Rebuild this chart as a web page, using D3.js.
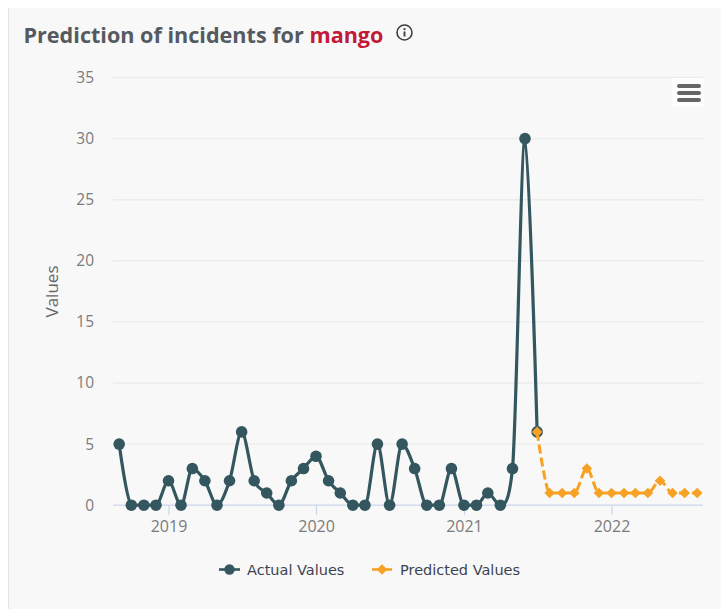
<!DOCTYPE html>
<html>
<head>
<meta charset="utf-8">
<style>
html,body{margin:0;padding:0;background:#fff;}
svg{display:block;}
</style>
<script src="https://cdn.jsdelivr.net/npm/d3@7/dist/d3.min.js"></script>
</head>
<body>
<svg id="chart" width="721" height="609"></svg>
<script>
// Monthly incident counts, one entry per month starting at actualStart
const actualStart = [2018, 8];
const actualValues = [5,0,0,0,2,0,3,2,0,2,6,2,1,0,2,3,4,2,1,0,0,5,0,5,3,0,0,3,0,0,1,0,3,30,6];
const predictedStart = [2021, 6];
const predictedValues = [6,1,1,1,3,1,1,1,1,1,2,1,1,1];
const yTicks = [0,5,10,15,20,25,30,35];
const xTickYears = [2019,2020,2021,2022];
const subject = "mango";
const legendLabels = ["Actual Values","Predicted Values"];

const teal = "#34565f", orange = "#f7a125";
const sansTitle = "'Open Sans', sans-serif";
const sansLegend = "'DejaVu Sans', sans-serif";

const monthly = (start, vals) => vals.map((v, i) => ({date: new Date(start[0], start[1] + i, 1), value: v}));
const actual = monthly(actualStart, actualValues);
const predicted = monthly(predictedStart, predictedValues);

// Spline with tangents clamped at local extremes, so peaks stay sharp but do not overshoot
function clampedSpline(context) {
  let pts = [];
  return {
    lineStart() { pts = []; },
    point(px, py) { pts.push([+px, +py]); },
    lineEnd() {
      const s = 2.2, d = s + 1, n = pts.length;
      const ctl = pts.map((p, i) => {
        if (i === 0 || i === n - 1) return {lx: p[0], ly: p[1], rx: p[0], ry: p[1]};
        const a = pts[i - 1], b = pts[i + 1];
        const lx = (s * p[0] + a[0]) / d, rx = (s * p[0] + b[0]) / d;
        let ly = (s * p[1] + a[1]) / d, ry = (s * p[1] + b[1]) / d;
        const c = ((ry - ly) * (rx - p[0])) / (rx - lx) + p[1] - ry;
        ly += c; ry += c;
        if (ly > a[1] && ly > p[1]) { ly = Math.max(a[1], p[1]); ry = 2 * p[1] - ly; }
        else if (ly < a[1] && ly < p[1]) { ly = Math.min(a[1], p[1]); ry = 2 * p[1] - ly; }
        if (ry > b[1] && ry > p[1]) { ry = Math.max(b[1], p[1]); ly = 2 * p[1] - ry; }
        else if (ry < b[1] && ry < p[1]) { ry = Math.min(b[1], p[1]); ly = 2 * p[1] - ry; }
        return {lx, ly, rx, ry};
      });
      pts.forEach((p, i) => {
        if (i === 0) context.moveTo(p[0], p[1]);
        else context.bezierCurveTo(ctl[i - 1].rx, ctl[i - 1].ry, ctl[i].lx, ctl[i].ly, p[0], p[1]);
      });
    }
  };
}

const svg = d3.select("#chart");

// panel behind the chart
svg.append("rect").attr("x", 8).attr("y", 8).attr("width", 713).attr("height", 601).attr("fill", "#f8f8f8");
svg.append("line").attr("x1", 8.5).attr("x2", 8.5).attr("y1", 8).attr("y2", 609).attr("stroke", "#e4e4e4");

const title = svg.append("text").attr("x", 23.5).attr("y", 42.5)
  .attr("font-family", sansTitle).attr("font-size", 21.6).attr("font-weight", 700).attr("fill", "#555a60");
title.append("tspan").text("Prediction of incidents for ");
title.append("tspan").attr("fill", "#c21a38").text(subject);

// info glyph next to the title
const info = svg.append("g").attr("transform", "translate(404.5,32.5)");
info.append("circle").attr("r", 7.5).attr("fill", "none").attr("stroke", "#3f3f3f").attr("stroke-width", 1.6);
info.append("circle").attr("cy", -3.3).attr("r", 1.1).attr("fill", "#3f3f3f");
info.append("line").attr("y1", -1).attr("y2", 4).attr("stroke", "#3f3f3f").attr("stroke-width", 1.9);

const x = d3.scaleTime()
  .domain([new Date(2019,0,1), new Date(2022,0,1)])
  .range([168.5, 611.5]);
const y = d3.scaleLinear().domain([0,35]).range([505.2,77.5]);
const left = 113, right = 703;

// horizontal grid
svg.append("g").selectAll("line").data(yTicks.filter(d => d > 0)).join("line")
  .attr("x1", left).attr("x2", right).attr("y1", d => y(d)).attr("y2", d => y(d))
  .attr("stroke", "#ececec").attr("stroke-width", 1.4);

// axes
const yAxis = svg.append("g").attr("transform", `translate(${left},0)`)
  .call(d3.axisLeft(y).tickValues(yTicks).tickSize(0).tickPadding(19));
yAxis.select(".domain").remove();
yAxis.selectAll("text").attr("font-family", sansTitle).attr("font-size", 15.5).attr("fill", "#7b7b7b");

const xAxis = svg.append("g").attr("transform", "translate(0,505.2)")
  .call(d3.axisBottom(x).tickValues(xTickYears.map(v => new Date(v,0,1))).tickFormat(d3.timeFormat("%Y")).tickSizeOuter(0).tickSize(10).tickPadding(5));
xAxis.select(".domain").attr("d", `M${left},0H${right}`).attr("stroke", "#ccd6eb").attr("stroke-width", 1.3);
xAxis.selectAll(".tick line").attr("stroke", "#ccd6eb").attr("stroke-width", 1.2);
xAxis.selectAll("text").attr("font-family", sansTitle).attr("font-size", 16).attr("fill", "#7b7b7b");

svg.append("text").attr("transform", "translate(58,291.5) rotate(-90)").attr("text-anchor", "middle")
  .attr("font-family", sansTitle).attr("font-size", 17).attr("fill", "#666").text("Values");

// series
const line = d3.line().x(d => x(d.date)).y(d => y(d.value)).curve(clampedSpline);
svg.append("path").datum(actual).attr("d", line).attr("fill", "none").attr("stroke", teal).attr("stroke-width", 3.2);
svg.append("g").selectAll("circle").data(actual).join("circle")
  .attr("cx", d => x(d.date)).attr("cy", d => y(d.value)).attr("r", 5.8).attr("fill", teal);

svg.append("path").datum(predicted).attr("d", line).attr("fill", "none").attr("stroke", orange)
  .attr("stroke-width", 3).attr("stroke-dasharray", "9,4");
const diamond = d3.symbol().type(d3.symbolDiamond2).size(72);
svg.append("g").selectAll("path").data(predicted).join("path")
  .attr("transform", d => `translate(${x(d.date)},${y(d.value)})`)
  .attr("d", diamond).attr("fill", orange);

// menu button
const menu = svg.append("g");
menu.append("rect").attr("x", 672).attr("y", 78).attr("width", 32).attr("height", 29).attr("fill", "#fdfdfd");
menu.selectAll("line").data([86, 93, 100]).join("line")
  .attr("x1", 679).attr("x2", 699).attr("y1", d => d).attr("y2", d => d)
  .attr("stroke", "#666").attr("stroke-width", 4).attr("stroke-linecap", "round");

// legend
const legendY = 569.5;
const items = [
  {x0: 219, x1: 240, tx: 247, label: legendLabels[0], color: teal},
  {x0: 372, x1: 392, tx: 400, label: legendLabels[1], color: orange}
];
const lg = svg.append("g");
lg.selectAll("line").data(items).join("line")
  .attr("x1", d => d.x0).attr("x2", d => d.x1).attr("y1", legendY).attr("y2", legendY)
  .attr("stroke", d => d.color).attr("stroke-width", 2.6);
lg.selectAll("text").data(items).join("text")
  .attr("x", d => d.tx).attr("y", legendY + 5)
  .attr("font-family", sansLegend).attr("font-size", 14.5).attr("fill", "#3c4452").text(d => d.label);
lg.append("circle").attr("cx", (items[0].x0 + items[0].x1) / 2).attr("cy", legendY).attr("r", 5.2).attr("fill", teal);
lg.append("path").attr("transform", `translate(${(items[1].x0 + items[1].x1) / 2},${legendY})`)
  .attr("d", diamond).attr("fill", orange);
</script>
</body>
</html>
